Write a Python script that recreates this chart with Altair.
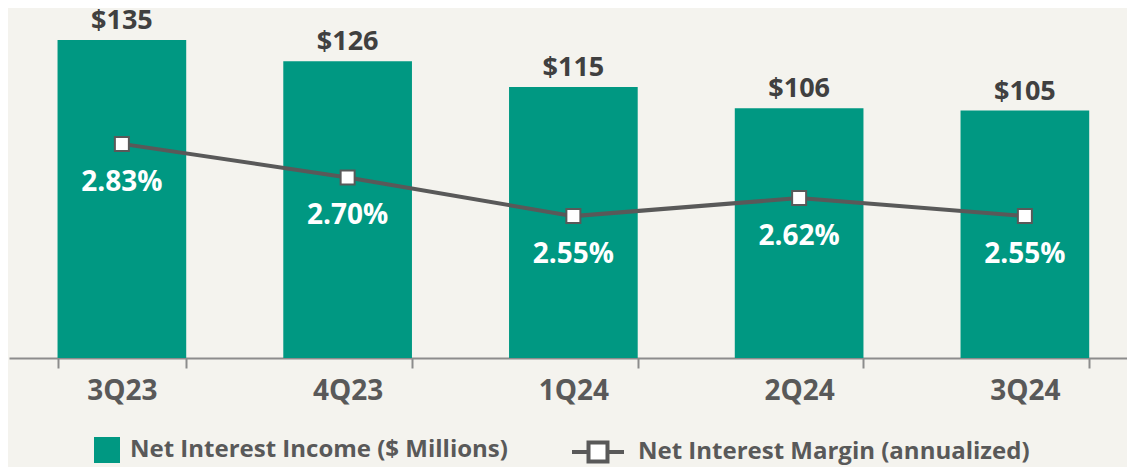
import altair as alt
import pandas as pd

quarters = ["3Q23", "4Q23", "1Q24", "2Q24", "3Q24"]
net_interest_income = [135, 126, 115, 106, 105]
net_interest_margin = [2.83, 2.70, 2.55, 2.62, 2.55]

bar_series = "Net Interest Income ($ Millions)"
line_series = "Net Interest Margin (annualized)"

TEAL = "#009882"
GRAY = "#595959"
BG = "#F4F3EE"
FONT = "Open Sans"

df = pd.DataFrame({
    "quarter": quarters,
    "nii": net_interest_income,
    "nim": net_interest_margin,
    "nii_label": [f"${v}" for v in net_interest_income],
    "nim_label": [f"{v:.2f}%" for v in net_interest_margin],
    "bar_series": [bar_series] * len(quarters),
    "line_series": [line_series] * len(quarters),
})

x_enc = alt.X(
    "quarter:N",
    sort=quarters,
    scale=alt.Scale(paddingInner=0.43, paddingOuter=0.215, range=[0, 1128.75]),
    axis=alt.Axis(
        title=None, labelAngle=0, labelFont=FONT, labelFontWeight="bold",
        labelFontSize=28, labelColor=GRAY, domainColor="#8C8C8C", domainWidth=2,
        tickColor="#8C8C8C", tickWidth=2, tickSize=10, tickBand="extent",
        labelPadding=23, labelBaseline="middle", grid=False,
    ),
)

y_bar = alt.Y("nii:Q", scale=alt.Scale(domain=[0, 147.7], nice=False, zero=True), axis=None)
y_line = alt.Y("nim:Q", scale=alt.Scale(domain=[2.0, 3.349], nice=False, zero=False), axis=None)

base = alt.Chart(df)

bars = base.mark_bar(color=TEAL).encode(
    x=x_enc,
    y=y_bar,
    color=alt.Color(
        "bar_series:N",
        scale=alt.Scale(range=[TEAL]),
        legend=alt.Legend(
            title=None, orient="none", legendX=85, legendY=427, padding=0,
            symbolType="square", symbolSize=676, symbolStrokeWidth=0,
            symbolOpacity=1, labelFont=FONT, labelFontWeight="bold",
            labelFontSize=24, labelColor=GRAY, labelOffset=10, labelLimit=600,
        ),
    ),
)

bar_text = base.mark_text(
    dy=-11, baseline="alphabetic", font=FONT, fontWeight="bold",
    fontSize=27, color="#404040",
).encode(x=x_enc, y=y_bar, text="nii_label:N")

legend_path = "M-1,0H-0.365M0.365,0H1M-0.365,-0.365H0.365V0.365H-0.365Z"

line = base.mark_line(strokeWidth=4).encode(
    x=x_enc,
    y=y_line,
    stroke=alt.Stroke(
        "line_series:N",
        scale=alt.Scale(range=[GRAY]),
        legend=alt.Legend(
            title=None, orient="none", legendX=561, legendY=414, padding=0,
            symbolType=legend_path, symbolSize=2704, symbolStrokeWidth=4,
            symbolFillColor="white", symbolStrokeColor=GRAY, symbolOpacity=1,
            labelFont=FONT, labelFontWeight="bold", labelFontSize=24,
            labelColor=GRAY, labelOffset=12, labelLimit=600,
        ),
    ),
)

points = base.mark_point(
    shape="square", filled=True, fill="white", stroke=GRAY,
    strokeWidth=2, size=196, opacity=1,
).encode(x=x_enc, y=y_line)

pct_text = base.mark_text(
    dy=47, baseline="alphabetic", font=FONT, fontWeight="bold",
    fontSize=28, color="white",
).encode(x=x_enc, y=y_line, text="nim_label:N")

chart = (
    alt.layer(bars, bar_text, line, points, pct_text)
    .resolve_scale(y="independent", color="independent", stroke="independent")
    .properties(
        width=1118, height=348,
        padding={"left": 1, "top": 2, "right": 0, "bottom": 112},
        autosize=alt.AutoSizeParams(type="none"),
        background=BG,
    )
    .configure_view(stroke=None)
)

chart.save("out.html", embed_options={"renderer": "svg", "actions": False})
